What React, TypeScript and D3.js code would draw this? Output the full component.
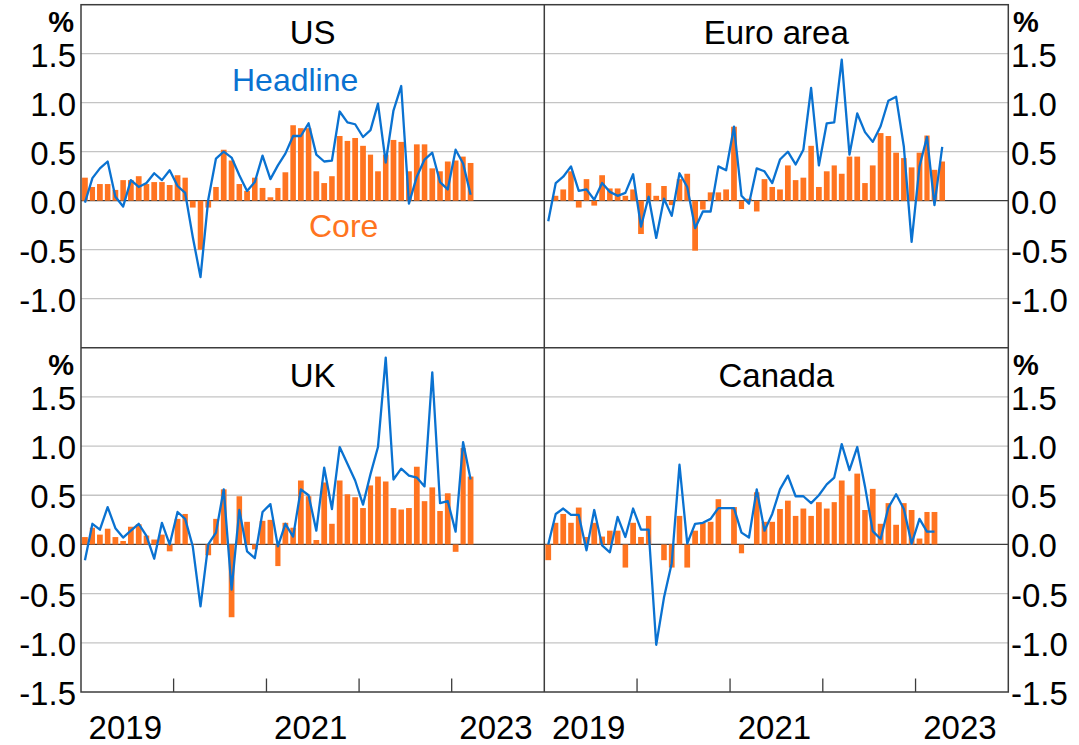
import React from "react";
import * as d3 from "d3";

// Monthly % change, starting January 2019
const startYear = 2019;
const usHeadline = [-0.02, 0.23, 0.33, 0.40, 0.04, -0.06, 0.21, 0.14, 0.18, 0.28, 0.21, 0.31, 0.15, 0.08, -0.37, -0.78, 0.01, 0.43, 0.50, 0.44, 0.26, 0.10, 0.19, 0.46, 0.22, 0.36, 0.48, 0.66, 0.66, 0.79, 0.47, 0.40, 0.41, 0.91, 0.80, 0.78, 0.65, 0.72, 0.99, 0.39, 0.92, 1.17, -0.03, 0.245, 0.42, 0.49, 0.19, 0.115, 0.52, 0.38, 0.06];
const usCore = [0.235, 0.14, 0.17, 0.17, 0.11, 0.21, 0.21, 0.25, 0.17, 0.19, 0.19, 0.16, 0.26, 0.235, -0.07, -0.50, -0.07, 0.14, 0.52, 0.41, 0.17, 0.10, 0.235, 0.13, 0.035, 0.13, 0.29, 0.77, 0.74, 0.74, 0.30, 0.18, 0.25, 0.66, 0.61, 0.64, 0.56, 0.47, 0.30, 0.47, 0.62, 0.60, 0.30, 0.575, 0.575, 0.33, 0.30, 0.40, 0.41, 0.45, 0.385];

const euroHeadline = [-0.21, 0.18, 0.245, 0.35, 0.10, 0.115, 0.01, 0.18, 0.09, 0.05, 0.08, 0.27, -0.265, 0.04, -0.38, 0.02, -0.155, 0.28, 0.14, -0.28, -0.11, -0.11, 0.35, 0.31, 0.755, 0.05, -0.03, 0.33, 0.30, 0.18, 0.42, 0.50, 0.37, 0.52, 1.15, 0.36, 0.79, 0.80, 1.44, 0.47, 0.89, 0.70, 0.60, 0.76, 1.02, 1.06, 0.55, -0.42, 0.35, 0.65, -0.045, 0.55];
const euroCore = [0.0, 0.05, 0.115, 0.30, -0.07, 0.22, -0.05, 0.26, 0.125, 0.125, 0.05, 0.115, -0.34, 0.18, 0.05, 0.15, -0.045, 0.22, 0.275, -0.51, -0.09, 0.085, 0.085, 0.115, 0.755, -0.085, 0.02, -0.11, 0.22, 0.14, 0.115, 0.36, 0.21, 0.235, 0.56, 0.14, 0.30, 0.36, 0.275, 0.45, 0.45, 0.18, 0.36, 0.69, 0.66, 0.49, 0.435, 0.34, 0.49, 0.665, 0.315, 0.40];

const ukHeadline = [-0.16, 0.21, 0.15, 0.38, 0.165, 0.07, 0.14, 0.21, 0.086, -0.145, 0.22, 0.0, 0.33, 0.26, -0.02, -0.63, 0.0, 0.12, 0.56, -0.46, 0.35, -0.07, -0.14, 0.33, 0.41, -0.02, 0.21, 0.08, 0.56, 0.50, 0.14, 0.78, 0.36, 0.99, 0.82, 0.65, 0.405, 0.715, 0.99, 1.90, 0.66, 0.77, 0.70, 0.68, 0.59, 1.75, 0.42, 0.44, 0.13, 1.04, 0.66];
const ukCore = [0.075, 0.17, 0.10, 0.16, 0.075, 0.035, 0.18, 0.205, 0.09, 0.05, 0.10, -0.07, 0.26, 0.31, 0.005, 0.0, -0.11, 0.26, 0.56, -0.74, 0.49, 0.23, -0.05, 0.24, 0.25, -0.22, 0.22, 0.17, 0.65, 0.49, 0.045, 0.63, 0.21, 0.65, 0.51, 0.48, 0.37, 0.60, 0.69, 0.64, 0.37, 0.355, 0.37, 0.79, 0.44, 0.58, 0.34, 0.52, -0.075, 0.98, 0.69];

const caHeadline = [0.0, 0.31, 0.365, 0.30, 0.30, -0.06, 0.35, -0.01, -0.08, 0.28, 0.076, 0.365, 0.15, 0.15, -1.02, -0.54, -0.19, 0.81, 0.01, 0.21, 0.22, 0.26, 0.37, 0.37, 0.37, 0.12, 0.07, 0.56, 0.14, 0.31, 0.56, 0.70, 0.49, 0.49, 0.42, 0.50, 0.61, 0.68, 1.02, 0.755, 0.99, 0.59, 0.135, 0.055, 0.375, 0.51, 0.36, 0.007, 0.26, 0.13, 0.13];
const caCore = [-0.16, 0.22, 0.31, 0.22, 0.375, 0.076, 0.22, 0.08, 0.14, 0.14, -0.235, 0.22, 0.076, 0.29, 0.0, -0.16, -0.235, 0.29, -0.235, 0.14, 0.22, 0.23, 0.46, 0.0, 0.38, -0.09, 0.0, 0.53, 0.23, 0.23, 0.36, 0.445, 0.29, 0.365, 0.29, 0.43, 0.365, 0.43, 0.65, 0.50, 0.72, 0.35, 0.565, 0.21, 0.42, 0.20, 0.42, 0.35, 0.06, 0.33, 0.33];

const topTicks = [-1.0, -0.5, 0.0, 0.5, 1.0, 1.5];
const bottomTicks = [-1.5, -1.0, -0.5, 0.0, 0.5, 1.0, 1.5];
const gridValues = [-1.0, -0.5, 0.5, 1.0, 1.5];
const yearTicks = [2020, 2021, 2022, 2023];
const yearLabels = [2019, 2021, 2023];

const BLUE = "#0a72d1";
const ORANGE = "#ff7420";
const FRAME = "#3c3c3c";
const GRID = "#c4c4c4";
const FONT = "'Liberation Sans', Arial, sans-serif";

const X_L0 = 81, X_MID = 544.3, X_R1 = 1008.3;
const Y_T0 = 4.7, Y_MID = 347.7, Y_B1 = 692;

const fmt = (v: number) => d3.format(".1f")(v).replace("\u2212", "-");

type PanelProps = {
  title: string;
  headline: number[];
  core: number[];
  x0: number; x1: number; y0: number; y1: number;
  side: "left" | "right";
  ticks: number[];
  bottom: boolean;
  labels?: boolean;
};

function Panel({ title, headline, core, x0, x1, y0, y1, side, ticks, bottom, labels }: PanelProps) {
  const x = d3.scaleTime().domain([new Date(startYear, 0, 1), new Date(startYear + 5, 0, 1)]).range([x0, x1]);
  const y = d3.scaleLinear().domain([-1.5, 2.0]).range([y1, y0]);
  const mStart = (i: number) => x(new Date(startYear, i, 1));
  const mEnd = (i: number) => x(new Date(startYear, i + 1, 1));
  const mid = (i: number) => (mStart(i) + mEnd(i)) / 2;
  const barFrac = 0.73;
  const line = d3.line<number>().x((_, i) => mid(i)).y((d) => y(d));
  const labelX = side === "left" ? 76 : 1011;
  const anchor = side === "left" ? "end" : "start";
  const cx = (x0 + x1) / 2;
  return (
    <g>
      {gridValues.map((g) => (
        <line key={g} x1={x0} x2={x1} y1={y(g)} y2={y(g)} stroke={GRID} strokeWidth={1.3} />
      ))}
      <line x1={x0} x2={x1} y1={y(0)} y2={y(0)} stroke={FRAME} strokeWidth={1.3} />
      {core.map((v, i) => {
        const w = mEnd(i) - mStart(i);
        const bw = w * barFrac;
        return (
          <rect key={i} x={mStart(i) + (w - bw) / 2} width={bw}
            y={Math.min(y(v), y(0))} height={Math.abs(y(v) - y(0))} fill={ORANGE} />
        );
      })}
      <path d={line(headline) || ""} fill="none" stroke={BLUE} strokeWidth={2.3} strokeLinejoin="round" />
      <text x={cx} y={y0 + 28} textAnchor="middle" dominantBaseline="central" fontSize={33} fill="#000">{title}</text>
      {ticks.map((t) => (
        <text key={t} x={labelX} y={y(t) + 1.5} textAnchor={anchor} dominantBaseline="central" fontSize={33} fill="#000">{fmt(t)}</text>
      ))}
      <text x={side === "left" ? 74 : 1013} y={y0 + 17} textAnchor={anchor} dominantBaseline="central" fontSize={29} fontWeight="bold" fill="#000">%</text>
      {bottom && yearTicks.map((yr) => {
        const tx = x(new Date(yr, 0, 1));
        return <line key={yr} x1={tx} x2={tx} y1={y1} y2={y1 - 13.5} stroke={FRAME} strokeWidth={1.3} />;
      })}
      {bottom && yearLabels.map((yr) => {
        const tx = (x(new Date(yr, 0, 1)) + x(new Date(yr + 1, 0, 1))) / 2;
        return <text key={yr} x={tx - 2} y={727} textAnchor="middle" dominantBaseline="central" fontSize={33} fill="#000">{yr}</text>;
      })}
      {labels && (
        <g>
          <text x={232} y={80} dominantBaseline="central" fontSize={32} fill={BLUE}>Headline</text>
          <text x={309} y={226} dominantBaseline="central" fontSize={32} fill={ORANGE}>Core</text>
        </g>
      )}
    </g>
  );
}

export default function App() {
  return (
    <svg width={1079} height={745} style={{ position: "absolute", left: 0, top: 0, fontFamily: FONT, background: "#fff" }}>
      <rect x={0} y={0} width={1079} height={745} fill="#fff" />
      <Panel title="US" headline={usHeadline} core={usCore} x0={X_L0} x1={X_MID} y0={Y_T0} y1={Y_MID} side="left" ticks={topTicks} bottom={false} labels />
      <Panel title="Euro area" headline={euroHeadline} core={euroCore} x0={X_MID} x1={X_R1} y0={Y_T0} y1={Y_MID} side="right" ticks={topTicks} bottom={false} />
      <Panel title="UK" headline={ukHeadline} core={ukCore} x0={X_L0} x1={X_MID} y0={Y_MID} y1={Y_B1} side="left" ticks={bottomTicks} bottom={true} />
      <Panel title="Canada" headline={caHeadline} core={caCore} x0={X_MID} x1={X_R1} y0={Y_MID} y1={Y_B1} side="right" ticks={bottomTicks} bottom={true} />
      <rect x={X_L0} y={Y_T0} width={X_R1 - X_L0} height={Y_B1 - Y_T0} fill="none" stroke={FRAME} strokeWidth={1.5} />
      <line x1={X_MID} x2={X_MID} y1={Y_T0} y2={Y_B1} stroke={FRAME} strokeWidth={1.5} />
      <line x1={X_L0} x2={X_R1} y1={Y_MID} y2={Y_MID} stroke={FRAME} strokeWidth={1.5} />
    </svg>
  );
}
